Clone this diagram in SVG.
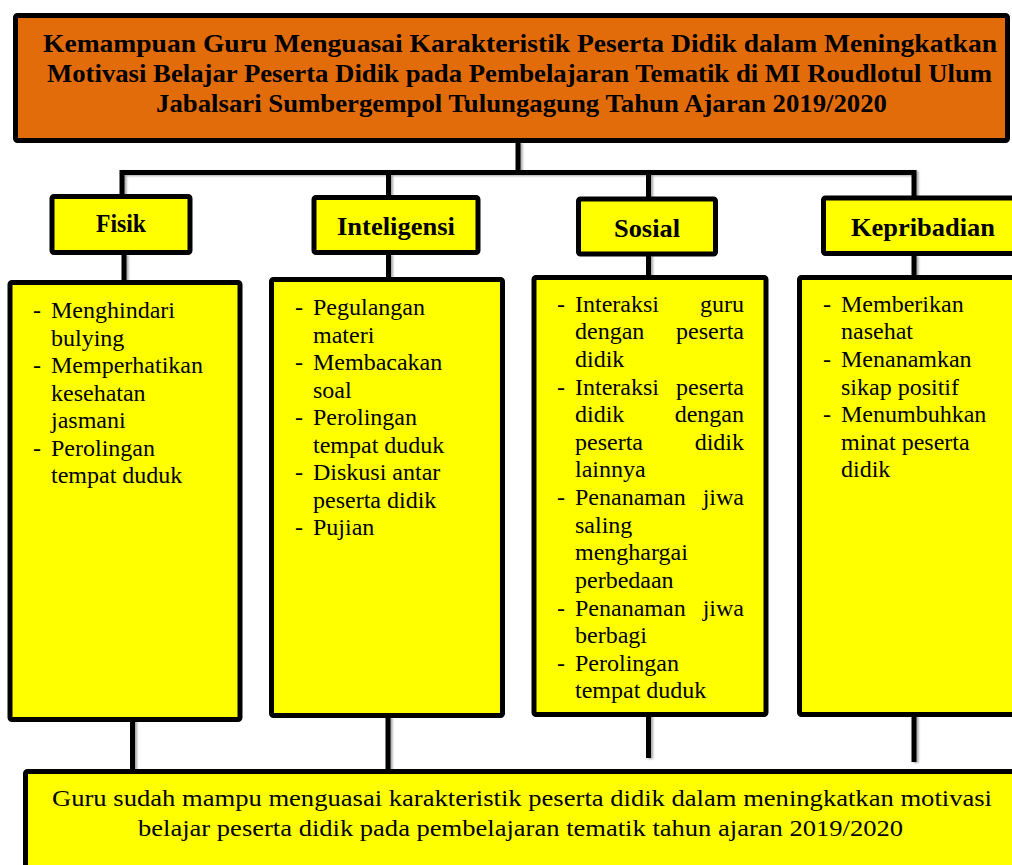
<svg xmlns="http://www.w3.org/2000/svg" width="1012" height="865" viewBox="0 0 1012 865" font-family="'Liberation Serif', 'DejaVu Serif', serif">
<style>
.box{stroke:#000;stroke-width:5;stroke-linejoin:round}
.org{fill:#E36C0A}
.yel{fill:#FFFF00}
.conn{fill:none;stroke:#000;stroke-width:5}
text{font-family:'Liberation Serif','DejaVu Serif',serif;fill:#000}
.title{font-weight:bold;font-size:25px}
.cat{font-weight:bold;font-size:26px}
.li{font-size:24px}
.end{text-anchor:end}
</style>
<defs>
<filter id="sh" x="-20%" y="-20%" width="140%" height="140%">
<feDropShadow dx="2" dy="1" stdDeviation="1.2" flood-color="#000" flood-opacity="0.35"/>
</filter>
</defs>
<rect width="1012" height="865" fill="#fff"/>
<g id="connectors" filter="url(#sh)">
<path class="conn" d="M518 142 V172.5"/>
<path class="conn" d="M122 197 V172.5 H914 V198"/>
<path class="conn" d="M388.5 172.5 V198"/>
<path class="conn" d="M648.5 172.5 V199"/>
<path class="conn" d="M124 254 V283"/>
<path class="conn" d="M388.5 254 V280"/>
<path class="conn" d="M648.5 255 V278"/>
<path class="conn" d="M914 255 V278"/>
<path class="conn" d="M132.5 719 V771"/>
<path class="conn" d="M388 716 V771"/>
<path class="conn" d="M648.5 715 V758"/>
<path class="conn" d="M914 715 V762"/>
</g>
<g id="title">
<rect class="box org" x="15.5" y="15.5" width="992" height="125" rx="2"/>
<text class="title" x="43" y="52" textLength="954" lengthAdjust="spacingAndGlyphs">Kemampuan Guru Menguasai Karakteristik Peserta Didik dalam Meningkatkan</text>
<text class="title" x="47" y="82" textLength="945" lengthAdjust="spacingAndGlyphs">Motivasi Belajar Peserta Didik pada Pembelajaran Tematik di MI Roudlotul Ulum</text>
<text class="title" x="156" y="112" textLength="731" lengthAdjust="spacingAndGlyphs">Jabalsari Sumbergempol Tulungagung Tahun Ajaran 2019/2020</text>
</g>
<g id="fisik">
<rect class="box yel" x="52" y="196.5" width="138" height="56" rx="2"/>
<text class="cat" x="96" y="232" textLength="50" lengthAdjust="spacingAndGlyphs">Fisik</text>
</g>
<g id="inteligensi">
<rect class="box yel" x="314" y="197.5" width="164" height="55" rx="2"/>
<text class="cat" x="337" y="235" textLength="118" lengthAdjust="spacingAndGlyphs">Inteligensi</text>
</g>
<g id="sosial">
<rect class="box yel" x="578.5" y="199" width="137" height="55" rx="2"/>
<text class="cat" x="614" y="237" textLength="66" lengthAdjust="spacingAndGlyphs">Sosial</text>
</g>
<g id="kepribadian">
<rect class="box yel" x="823.5" y="198" width="200" height="55.5" rx="2"/>
<text class="cat" x="851" y="236" textLength="144" lengthAdjust="spacingAndGlyphs">Kepribadian</text>
</g>
<g id="fisik-list">
<rect class="box yel" x="10" y="282.5" width="230" height="437" rx="2"/>
<text class="li" x="33" y="318">-</text><text class="li" x="51" y="318">Menghindari</text>
<text class="li" x="51" y="345.5">bulying</text>
<text class="li" x="33" y="373">-</text><text class="li" x="51" y="373">Memperhatikan</text>
<text class="li" x="51" y="400.5">kesehatan</text>
<text class="li" x="51" y="428">jasmani</text>
<text class="li" x="33" y="455.5">-</text><text class="li" x="51" y="455.5">Perolingan</text>
<text class="li" x="51" y="483">tempat duduk</text>
</g>
<g id="inteligensi-list">
<rect class="box yel" x="271.5" y="279.5" width="231" height="436" rx="2"/>
<text class="li" x="295" y="315">-</text><text class="li" x="313" y="315">Pegulangan</text>
<text class="li" x="313" y="342.5">materi</text>
<text class="li" x="295" y="370">-</text><text class="li" x="313" y="370">Membacakan</text>
<text class="li" x="313" y="397.5">soal</text>
<text class="li" x="295" y="425">-</text><text class="li" x="313" y="425">Perolingan</text>
<text class="li" x="313" y="452.5">tempat duduk</text>
<text class="li" x="295" y="480">-</text><text class="li" x="313" y="480">Diskusi antar</text>
<text class="li" x="313" y="507.5">peserta didik</text>
<text class="li" x="295" y="535">-</text><text class="li" x="313" y="535">Pujian</text>
</g>
<g id="sosial-list">
<rect class="box yel" x="534" y="277.5" width="232" height="437" rx="2"/>
<text class="li" x="557" y="311.5">-</text><text class="li" x="575" y="311.5">Interaksi</text><text class="li end" x="744" y="311.5">guru</text>
<text class="li" x="575" y="339">dengan</text><text class="li end" x="744" y="339">peserta</text>
<text class="li" x="575" y="366.5">didik</text>
<text class="li" x="557" y="394.5">-</text><text class="li" x="575" y="394.5">Interaksi</text><text class="li end" x="744" y="394.5">peserta</text>
<text class="li" x="575" y="422">didik</text><text class="li end" x="744" y="422">dengan</text>
<text class="li" x="575" y="449.5">peserta</text><text class="li end" x="744" y="449.5">didik</text>
<text class="li" x="575" y="477">lainnya</text>
<text class="li" x="557" y="505">-</text><text class="li" x="575" y="505">Penanaman</text><text class="li end" x="744" y="505">jiwa</text>
<text class="li" x="575" y="532.5">saling</text>
<text class="li" x="575" y="560">menghargai</text>
<text class="li" x="575" y="588">perbedaan</text>
<text class="li" x="557" y="615.5">-</text><text class="li" x="575" y="615.5">Penanaman</text><text class="li end" x="744" y="615.5">jiwa</text>
<text class="li" x="575" y="643">berbagi</text>
<text class="li" x="557" y="670.5">-</text><text class="li" x="575" y="670.5">Perolingan</text>
<text class="li" x="575" y="698">tempat duduk</text>
</g>
<g id="kepribadian-list">
<rect class="box yel" x="799.5" y="277.5" width="230" height="437" rx="2"/>
<text class="li" x="823" y="311.5">-</text><text class="li" x="841" y="311.5">Memberikan</text>
<text class="li" x="841" y="339">nasehat</text>
<text class="li" x="823" y="367">-</text><text class="li" x="841" y="367">Menanamkan</text>
<text class="li" x="841" y="394.5">sikap positif</text>
<text class="li" x="823" y="422">-</text><text class="li" x="841" y="422">Menumbuhkan</text>
<text class="li" x="841" y="450">minat peserta</text>
<text class="li" x="841" y="477">didik</text>
</g>
<g id="kesimpulan">
<rect class="box yel" x="25.5" y="771.5" width="1000" height="120" rx="2"/>
<text class="li" x="52" y="806" textLength="940" lengthAdjust="spacingAndGlyphs">Guru sudah mampu menguasai karakteristik peserta didik dalam meningkatkan motivasi</text>
<text class="li" x="138" y="836" textLength="765" lengthAdjust="spacingAndGlyphs">belajar peserta didik pada pembelajaran tematik tahun ajaran 2019/2020</text>
</g>
</svg>
